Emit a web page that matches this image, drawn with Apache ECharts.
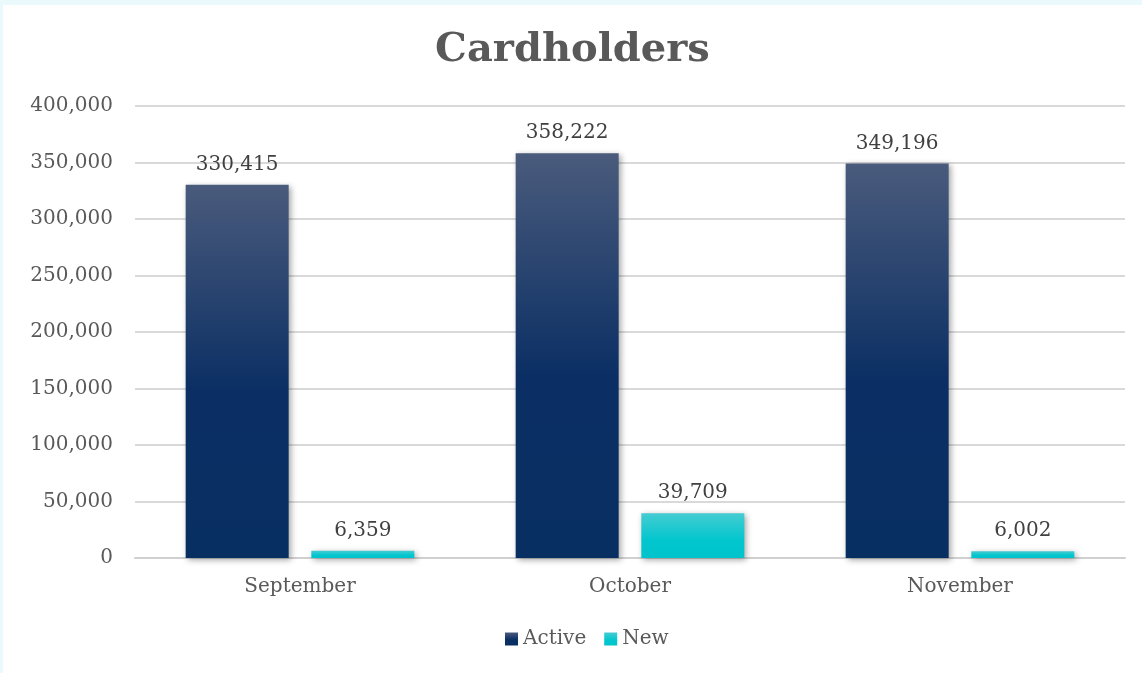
<!DOCTYPE html>
<html>
<head>
<meta charset="utf-8">
<title>Cardholders</title>
<script src="https://cdn.jsdelivr.net/npm/echarts@6/dist/echarts.min.js"></script>
<style>
    html, body { margin: 0; padding: 0; width: 1142px; height: 673px; background: #eaf9fb; overflow: hidden; }
    #chart { position: absolute; left: 3px; top: 5px; width: 1139px; height: 668px; background: #ffffff; }
</style>
</head>
<body>
<div id="chart"></div>
<script>
var months = ['September', 'October', 'November'];
var activeValues = [330415, 358222, 349196];
var newValues = [6359, 39709, 6002];

var serifFont = "'DejaVu Serif', Georgia, serif";

var chart = echarts.init(document.getElementById('chart'));

var activeColor = new echarts.graphic.LinearGradient(0, 0, 0, 1, [
    { offset: 0, color: '#4a5b7c' },
    { offset: 0.55, color: '#0b2f64' },
    { offset: 1, color: '#082f62' }
]);
var newColor = new echarts.graphic.LinearGradient(0, 0, 0, 1, [
    { offset: 0, color: '#45ccd2' },
    { offset: 0.6, color: '#02c6ce' },
    { offset: 1, color: '#00c3cc' }
]);

function fmt(v) {
    return echarts.format.addCommas(v);
}

chart.setOption({
    animation: false,
    title: {
        text: 'Cardholders',
        left: 'center',
        top: 21,
        textStyle: {
            fontFamily: serifFont,
            fontWeight: 'bold',
            fontSize: 40,
            color: '#595959'
        }
    },
    legend: {
        bottom: 19,
        left: 497,
        itemWidth: 13,
        itemHeight: 13,
        itemGap: 18,
        icon: 'rect',
        textStyle: {
            fontFamily: serifFont,
            fontSize: 20,
            color: '#595959'
        },
        data: ['Active', 'New']
    },
    grid: {
        left: 132,
        right: 17,
        top: 101,
        bottom: 115
    },
    xAxis: {
        type: 'category',
        data: months,
        axisTick: { show: false },
        axisLine: { lineStyle: { color: '#d0d0d0', width: 2 } },
        axisLabel: {
            margin: 19,
            fontFamily: serifFont,
            fontSize: 20,
            color: '#595959'
        }
    },
    yAxis: {
        type: 'value',
        min: 0,
        max: 400000,
        interval: 50000,
        axisLine: { show: false },
        axisTick: { show: false },
        splitLine: { lineStyle: { color: '#d9d9d9', width: 2 } },
        axisLabel: {
            margin: 22,
            fontFamily: serifFont,
            fontSize: 20,
            color: '#595959',
            formatter: function (v) { return fmt(v); }
        }
    },
    series: [{
        name: 'Active',
        type: 'bar',
        data: activeValues,
        barWidth: 103,
        barGap: '22%',
        itemStyle: {
            color: activeColor,
            shadowColor: 'rgba(0,0,0,0.35)',
            shadowBlur: 6,
            shadowOffsetX: 2,
            shadowOffsetY: 2
        },
        label: {
            show: true,
            position: 'top',
            distance: 10,
            fontFamily: serifFont,
            fontSize: 20,
            color: '#404040',
            formatter: function (p) { return fmt(p.value); }
        }
    }, {
        name: 'New',
        type: 'bar',
        data: newValues,
        barWidth: 103,
        itemStyle: {
            color: newColor,
            shadowColor: 'rgba(0,0,0,0.35)',
            shadowBlur: 6,
            shadowOffsetX: 2,
            shadowOffsetY: 2
        },
        label: {
            show: true,
            position: 'top',
            distance: 10,
            fontFamily: serifFont,
            fontSize: 20,
            color: '#404040',
            formatter: function (p) { return fmt(p.value); }
        }
    }]
});
</script>
</body>
</html>
